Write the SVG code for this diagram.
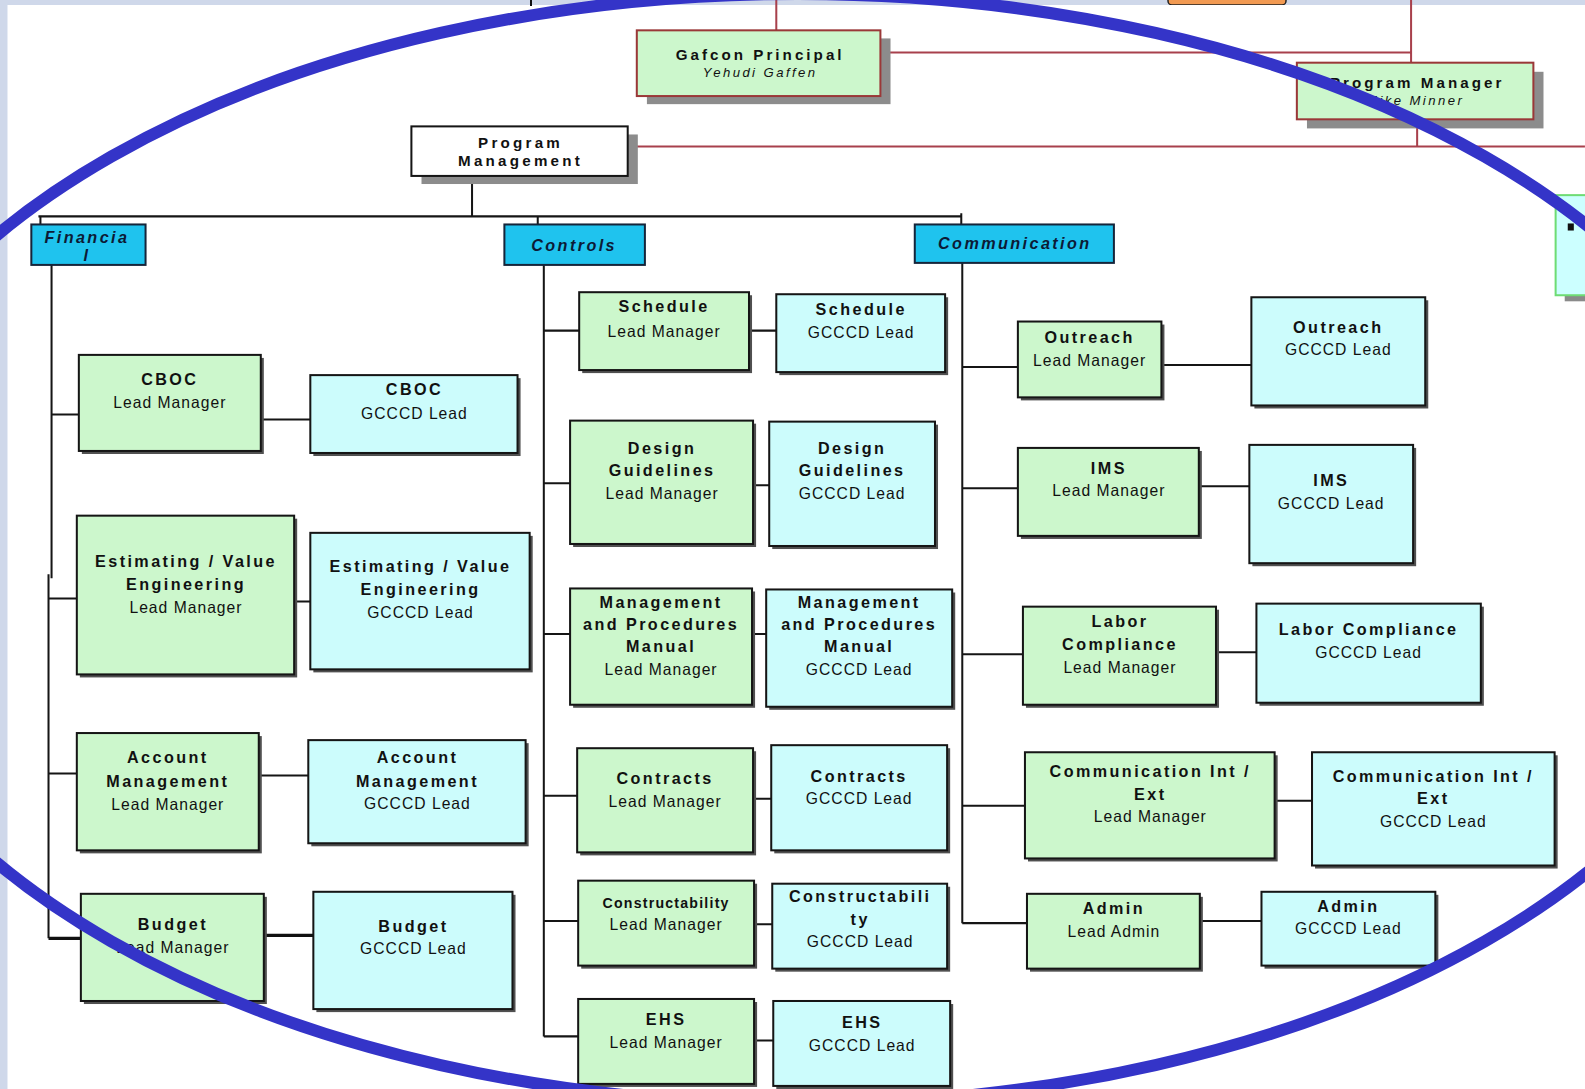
<svg xmlns="http://www.w3.org/2000/svg" width="1585" height="1089" viewBox="0 0 1585 1089">
<style>
.lm{fill:#ccf7cc;stroke:#151515;stroke-width:2}
.gc{fill:#ccfcfc;stroke:#151515;stroke-width:2}
.sh{fill:#505050}
.bsh{fill:#8c8c8c}
.hd{fill:#1fc3ee;stroke:#15253a;stroke-width:2}
.top{fill:#ccf7cc;stroke:#9a3838;stroke-width:2}
.t{font-family:"Liberation Sans",Arial,sans-serif;font-weight:bold;font-size:16px;letter-spacing:2.4px;text-anchor:middle;fill:#111}
.s{font-family:"Liberation Sans",Arial,sans-serif;font-size:15.5px;letter-spacing:1px;text-anchor:middle;fill:#111}
.i{font-family:"Liberation Sans",Arial,sans-serif;font-style:italic;font-size:13px;letter-spacing:2.4px;text-anchor:middle;fill:#111}
.h{font-family:"Liberation Sans",Arial,sans-serif;font-weight:bold;font-style:italic;font-size:16px;letter-spacing:2.4px;text-anchor:middle;fill:#0c1a36}
.k{stroke:#151515;stroke-width:2;fill:none}
.k3{stroke:#111;stroke-width:3.2;fill:none}
.r{stroke:#a8404c;stroke-width:2;fill:none}
</style>
<rect x="0" y="0" width="1585" height="1089" fill="#cfd8ea"/>
<rect x="1168" y="-10" width="118" height="15" rx="4" fill="#f29a52" stroke="#222" stroke-width="1.5"/>
<rect x="7.5" y="5" width="1578" height="1084" fill="#ffffff"/>
<line x1="531" y1="0" x2="531" y2="6" stroke="#111" stroke-width="2"/>
<g transform="scale(1.0108 1.0111)">
<g id="connectors">
<path class="r" d="M768 0V30M871 52H1396M1396 0V62M1402 118V145M621 145H1568"/>
<path class="k" d="M467 174V214M38 214H951M40 214V222M532 214V222M951 211V222"/>
<path class="k" d="M51 262V572M48 568V928M51 410H78M48 592H76M48 765H76M258 415H307M291 595H307M256 767H305"/>
<path class="k3" d="M48 928H80M261 925H310"/>
<path class="k" d="M538 262V1025M538 327H573M538 478H564M538 627H564M538 787H571M538 911H572M538 1025H572M741 327H768M745 480H761M744 627H758M745 790H763M746 914H764M746 1029H765"/>
<path class="k" d="M952 260V913M952 363H1007M952 483H1007M952 647H1012M952 797H1014M952 913H1016M1149 361H1238M1186 481H1236M1203 645H1243M1261 792H1298M1187 911H1248"/>
</g>
<g id="gafcon-principal"><rect class="bsh" x="640" y="38" width="241" height="65"/><rect class="top" x="630" y="30" width="241" height="65"/><text class="t" x="752" y="59" style="font-size:15px;letter-spacing:3px">Gafcon Principal</text><text class="i" x="752" y="76">Yehudi Gaffen</text></g>
<g id="program-manager"><rect class="bsh" x="1293" y="71" width="234" height="56"/><rect class="top" x="1283" y="62" width="234" height="56"/><text class="t" x="1402" y="87" style="font-size:15px;letter-spacing:3px">Program Manager</text><text class="i" x="1400" y="104">Mike Minner</text></g>
<g id="program-management"><rect class="bsh" x="417" y="133" width="214" height="49"/><rect x="407" y="125" width="214" height="49" fill="#fff" stroke="#151515" stroke-width="2"/><text class="t" x="515" y="146" style="font-size:15px;letter-spacing:3.2px">Program</text><text class="t" x="515" y="164" style="font-size:15px;letter-spacing:3.2px">Management</text></g>
<g id="financial"><rect class="hd" x="31" y="222" width="113" height="40"/><text class="h" x="86" y="240">Financia</text><text class="h" x="86" y="258">l</text></g>
<g id="controls"><rect class="hd" x="499" y="222" width="139" height="40"/><text class="h" x="568" y="248">Controls</text></g>
<g id="communication"><rect class="hd" x="905" y="222" width="197" height="38"/><text class="h" x="1004" y="246">Communication</text></g>
<g id="cboc-lm"><rect class="sh" x="81" y="354" width="180" height="95"/><rect class="lm" x="78" y="351" width="180" height="95"/><text class="t" x="168" y="381">CBOC</text><text class="s" x="168" y="404">Lead Manager</text></g>
<g id="cboc-gc"><rect class="sh" x="310" y="374" width="205" height="77"/><rect class="gc" x="307" y="371" width="205" height="77"/><text class="t" x="410" y="391">CBOC</text><text class="s" x="410" y="414">GCCCD Lead</text></g>
<g id="est-lm"><rect class="sh" x="79" y="513" width="215" height="157"/><rect class="lm" x="76" y="510" width="215" height="157"/><text class="t" x="184" y="561">Estimating / Value</text><text class="t" x="184" y="584">Engineering</text><text class="s" x="184" y="606">Lead Manager</text></g>
<g id="est-gc"><rect class="sh" x="310" y="530" width="217" height="135"/><rect class="gc" x="307" y="527" width="217" height="135"/><text class="t" x="416" y="566">Estimating / Value</text><text class="t" x="416" y="588">Engineering</text><text class="s" x="416" y="611">GCCCD Lead</text></g>
<g id="acc-lm"><rect class="sh" x="79" y="728" width="180" height="116"/><rect class="lm" x="76" y="725" width="180" height="116"/><text class="t" x="166" y="755">Account</text><text class="t" x="166" y="778">Management</text><text class="s" x="166" y="801">Lead Manager</text></g>
<g id="acc-gc"><rect class="sh" x="308" y="735" width="215" height="102"/><rect class="gc" x="305" y="732" width="215" height="102"/><text class="t" x="413" y="755">Account</text><text class="t" x="413" y="778">Management</text><text class="s" x="413" y="800">GCCCD Lead</text></g>
<g id="bud-lm"><rect class="sh" x="83" y="887" width="181" height="106"/><rect class="lm" x="80" y="884" width="181" height="106"/><text class="t" x="171" y="920">Budget</text><text class="s" x="171" y="943">Lead Manager</text></g>
<g id="bud-gc"><rect class="sh" x="313" y="885" width="197" height="116"/><rect class="gc" x="310" y="882" width="197" height="116"/><text class="t" x="409" y="922">Budget</text><text class="s" x="409" y="944">GCCCD Lead</text></g>
<g id="sch-lm"><rect class="sh" x="576" y="292" width="168" height="77"/><rect class="lm" x="573" y="289" width="168" height="77"/><text class="t" x="657" y="309">Schedule</text><text class="s" x="657" y="333">Lead Manager</text></g>
<g id="sch-gc"><rect class="sh" x="771" y="294" width="167" height="77"/><rect class="gc" x="768" y="291" width="167" height="77"/><text class="t" x="852" y="312">Schedule</text><text class="s" x="852" y="334">GCCCD Lead</text></g>
<g id="des-lm"><rect class="sh" x="567" y="419" width="181" height="122"/><rect class="lm" x="564" y="416" width="181" height="122"/><text class="t" x="655" y="449">Design</text><text class="t" x="655" y="471">Guidelines</text><text class="s" x="655" y="494">Lead Manager</text></g>
<g id="des-gc"><rect class="sh" x="764" y="420" width="164" height="123"/><rect class="gc" x="761" y="417" width="164" height="123"/><text class="t" x="843" y="449">Design</text><text class="t" x="843" y="471">Guidelines</text><text class="s" x="843" y="494">GCCCD Lead</text></g>
<g id="mpm-lm"><rect class="sh" x="567" y="585" width="180" height="115"/><rect class="lm" x="564" y="582" width="180" height="115"/><text class="t" x="654" y="601">Management</text><text class="t" x="654" y="623">and Procedures</text><text class="t" x="654" y="645">Manual</text><text class="s" x="654" y="668">Lead Manager</text></g>
<g id="mpm-gc"><rect class="sh" x="761" y="586" width="184" height="116"/><rect class="gc" x="758" y="583" width="184" height="116"/><text class="t" x="850" y="601">Management</text><text class="t" x="850" y="623">and Procedures</text><text class="t" x="850" y="645">Manual</text><text class="s" x="850" y="668">GCCCD Lead</text></g>
<g id="con-lm"><rect class="sh" x="574" y="743" width="174" height="103"/><rect class="lm" x="571" y="740" width="174" height="103"/><text class="t" x="658" y="775">Contracts</text><text class="s" x="658" y="798">Lead Manager</text></g>
<g id="con-gc"><rect class="sh" x="766" y="740" width="174" height="104"/><rect class="gc" x="763" y="737" width="174" height="104"/><text class="t" x="850" y="773">Contracts</text><text class="s" x="850" y="795">GCCCD Lead</text></g>
<g id="cst-lm"><rect class="sh" x="575" y="874" width="174" height="84"/><rect class="lm" x="572" y="871" width="174" height="84"/><text class="t" x="659" y="898" style="font-size:14px;letter-spacing:1.2px">Constructability</text><text class="s" x="659" y="920">Lead Manager</text></g>
<g id="cst-gc"><rect class="sh" x="767" y="877" width="173" height="84"/><rect class="gc" x="764" y="874" width="173" height="84"/><text class="t" x="851" y="892">Constructabili</text><text class="t" x="851" y="915">ty</text><text class="s" x="851" y="937">GCCCD Lead</text></g>
<g id="ehs-lm"><rect class="sh" x="575" y="991" width="174" height="84"/><rect class="lm" x="572" y="988" width="174" height="84"/><text class="t" x="659" y="1014">EHS</text><text class="s" x="659" y="1037">Lead Manager</text></g>
<g id="ehs-gc"><rect class="sh" x="768" y="993" width="175" height="84"/><rect class="gc" x="765" y="990" width="175" height="84"/><text class="t" x="853" y="1017">EHS</text><text class="s" x="853" y="1039">GCCCD Lead</text></g>
<g id="out-lm"><rect class="sh" x="1010" y="321" width="142" height="75"/><rect class="lm" x="1007" y="318" width="142" height="75"/><text class="t" x="1078" y="339">Outreach</text><text class="s" x="1078" y="362">Lead Manager</text></g>
<g id="out-gc"><rect class="sh" x="1241" y="297" width="172" height="107"/><rect class="gc" x="1238" y="294" width="172" height="107"/><text class="t" x="1324" y="329">Outreach</text><text class="s" x="1324" y="351">GCCCD Lead</text></g>
<g id="ims-lm"><rect class="sh" x="1010" y="446" width="179" height="87"/><rect class="lm" x="1007" y="443" width="179" height="87"/><text class="t" x="1097" y="469">IMS</text><text class="s" x="1097" y="491">Lead Manager</text></g>
<g id="ims-gc"><rect class="sh" x="1239" y="443" width="162" height="117"/><rect class="gc" x="1236" y="440" width="162" height="117"/><text class="t" x="1317" y="481">IMS</text><text class="s" x="1317" y="503">GCCCD Lead</text></g>
<g id="lab-lm"><rect class="sh" x="1015" y="603" width="191" height="97"/><rect class="lm" x="1012" y="600" width="191" height="97"/><text class="t" x="1108" y="620">Labor</text><text class="t" x="1108" y="643">Compliance</text><text class="s" x="1108" y="666">Lead Manager</text></g>
<g id="lab-gc"><rect class="sh" x="1246" y="600" width="222" height="98"/><rect class="gc" x="1243" y="597" width="222" height="98"/><text class="t" x="1354" y="628">Labor Compliance</text><text class="s" x="1354" y="651">GCCCD Lead</text></g>
<g id="cie-lm"><rect class="sh" x="1017" y="747" width="247" height="105"/><rect class="lm" x="1014" y="744" width="247" height="105"/><text class="t" x="1138" y="768">Communication Int /</text><text class="t" x="1138" y="791">Ext</text><text class="s" x="1138" y="813">Lead Manager</text></g>
<g id="cie-gc"><rect class="sh" x="1301" y="747" width="240" height="112"/><rect class="gc" x="1298" y="744" width="240" height="112"/><text class="t" x="1418" y="773">Communication Int /</text><text class="t" x="1418" y="795">Ext</text><text class="s" x="1418" y="818">GCCCD Lead</text></g>
<g id="adm-lm"><rect class="sh" x="1019" y="887" width="171" height="74"/><rect class="lm" x="1016" y="884" width="171" height="74"/><text class="t" x="1102" y="904">Admin</text><text class="s" x="1102" y="927">Lead Admin</text></g>
<g id="adm-gc"><rect class="sh" x="1251" y="885" width="172" height="73"/><rect class="gc" x="1248" y="882" width="172" height="73"/><text class="t" x="1334" y="902">Admin</text><text class="s" x="1334" y="924">GCCCD Lead</text></g>
<g id="edge-box"><rect x="1548" y="290" width="40" height="8" fill="#8a8a8a"/><rect x="1539" y="193" width="60" height="99" fill="#ccffff" stroke="#6edc74" stroke-width="2"/><rect x="1551" y="221" width="6" height="7" fill="#111"/></g>
</g>
<ellipse cx="798" cy="549" rx="971" ry="555" fill="none" stroke="#3434c8" stroke-width="12"/>
</svg>
